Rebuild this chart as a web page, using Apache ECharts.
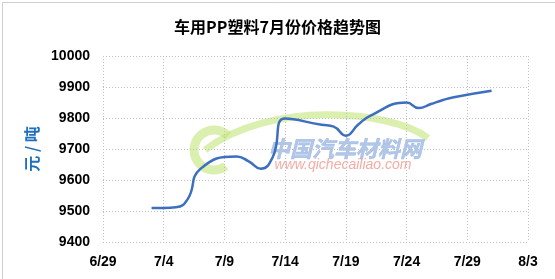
<!DOCTYPE html>
<html>
<head>
<meta charset="utf-8">
<script src="https://cdn.jsdelivr.net/npm/echarts@6/dist/echarts.min.js"></script>
<style>
html,body{margin:0;padding:0;background:#fff;}
#c{width:555px;height:279px;}
</style>
</head>
<body>
<div id="c"></div>
<script>
// ---- data ----
const title = '车用PP塑料7月份价格趋势图';
const yAxisName = '元 / 吨';
const dates = ['7/3','7/4','7/5','7/6','7/7','7/10','7/11','7/12','7/13','7/14','7/17','7/18','7/19','7/20','7/21','7/24','7/25','7/26','7/27','7/28','7/31'];
const prices = [9510,9510,9512,9540,9635,9676,9660,9636,9676,9798,9778,9772,9743,9778,9807,9850,9832,9845,9858,9868,9888];
const xTickLabels = ['6/29','7/4','7/9','7/14','7/19','7/24','7/29','8/3'];
const yTicks = [9400,9500,9600,9700,9800,9900,10000];
const year = 2017;

const base = Date.UTC(year,5,29);
function dayOffset(s){const [m,d]=s.split('/').map(Number);return (Date.UTC(year,m-1,d)-base)/86400000;}
const seriesData = dates.map((d,i)=>[dayOffset(d),prices[i]]);
const xMax = dayOffset(xTickLabels[xTickLabels.length-1]);

const chart = echarts.init(document.getElementById('c'));
const tickFont = {color:'#000',fontWeight:'bold',fontSize:14,fontFamily:'"Liberation Sans", Arial, sans-serif'};
chart.setOption({
  animation:false,
  backgroundColor:'#fff',
  title:{text:title,left:'center',top:14,textStyle:{fontSize:16,fontWeight:'bold',color:'#000',fontFamily:'"Noto Sans CJK SC", sans-serif'}},
  grid:{left:103,right:27,top:56,bottom:37,containLabel:false},
  xAxis:{type:'value',min:0,max:xMax,interval:5,
    axisLine:{show:false},axisTick:{show:false},
    splitLine:{show:true,lineStyle:{color:'#bfbfbf',type:[1,2],width:1}},
    axisLabel:Object.assign({margin:13,formatter:v=>xTickLabels[Math.round(v/5)]||''},tickFont)},
  yAxis:{type:'value',min:yTicks[0],max:yTicks[yTicks.length-1],interval:100,
    name:yAxisName,nameLocation:'middle',nameGap:62,nameRotate:90,
    nameTextStyle:{color:'#1f6fbf',fontSize:16,fontWeight:'bold',fontFamily:'"Noto Sans CJK SC", sans-serif'},
    axisLine:{show:false},axisTick:{show:false},
    splitLine:{show:true,lineStyle:{color:'#bfbfbf',type:[1,2],width:1}},
    axisLabel:Object.assign({margin:13,formatter:v=>String(v)},tickFont)},
  graphic:[
    {type:'rect',left:0,top:0,shape:{width:554,height:278},style:{fill:'none',stroke:'#d0d0d0',lineWidth:1},silent:true,z:-10},
    {type:'arc',shape:{cx:214,cy:150,r:20,startAngle:Math.PI*0.3,endAngle:Math.PI*1.75},style:{stroke:'rgba(190,225,110,0.55)',lineWidth:9,fill:'none'},z:-1},
    {type:'bezierCurve',shape:{x1:205,y1:150,cpx1:270,cpy1:100,x2:428,y2:138,cpx2:390,cpy2:110},style:{stroke:'rgba(190,225,110,0.55)',lineWidth:7,fill:'none'},z:-1},
    {type:'text',x:345,y:149,style:{text:'中国汽车材料网',fill:'rgba(150,180,225,0.75)',stroke:'rgba(120,150,210,0.6)',lineWidth:0.5,font:'italic bold 22px "Noto Sans CJK SC"',align:'center',verticalAlign:'middle'},z:-1},
    {type:'text',x:343,y:165,style:{text:'www.qichecailiao.com',fill:'rgba(240,150,140,0.8)',font:'italic 14px "Liberation Sans"',align:'center',verticalAlign:'middle'},z:-1}
  ],
  series:[{type:'line',data:seriesData,smooth:0.5,showSymbol:false,
    lineStyle:{color:'#3d6fbf',width:2.5},z:5}]
});
</script>
</body>
</html>
